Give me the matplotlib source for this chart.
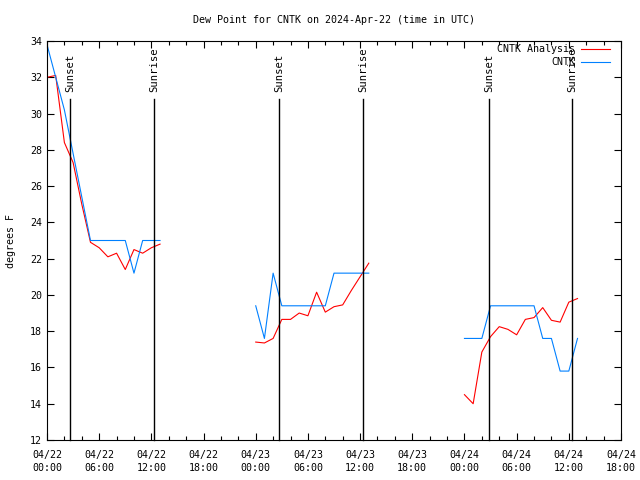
import numpy as np
import matplotlib
matplotlib.use("Agg")
import matplotlib.pyplot as plt
from matplotlib.ticker import MultipleLocator
from matplotlib.lines import Line2D

# hours since 2024-04-22 00:00 UTC
analysis_hours = [list(range(0, 14)), list(range(24, 38)), list(range(48, 62))]
analysis_vals = [
    [32.0, 32.1, 28.4, 27.3, 25.0, 22.9, 22.6, 22.1, 22.3, 21.4, 22.5, 22.3, 22.6, 22.8],
    [17.4, 17.35, 17.6, 18.65, 18.65, 19.0, 18.85, 20.15, 19.05, 19.35, 19.45, 20.25, 21.0, 21.75],
    [14.5, 14.0, 16.85, 17.7, 18.25, 18.1, 17.8, 18.65, 18.75, 19.3, 18.6, 18.5, 19.6, 19.8],
]
obs_hours = [list(range(0, 14)), list(range(24, 38)), list(range(48, 62))]
obs_vals = [
    [33.8, 32.0, 30.2, 27.8, 25.4, 23.0, 23.0, 23.0, 23.0, 23.0, 21.2, 23.0, 23.0, 23.0],
    [19.4, 17.6, 21.2, 19.4, 19.4, 19.4, 19.4, 19.4, 19.4, 21.2, 21.2, 21.2, 21.2, 21.2],
    [17.6, 17.6, 17.6, 19.4, 19.4, 19.4, 19.4, 19.4, 19.4, 17.6, 17.6, 15.8, 15.8, 17.6],
]
series_names = ["CNTK Analysis", "CNTK"]
series_colors = ["#ff0000", "#0080ff"]
sun_events = [2.68, 12.3, 26.68, 36.33, 50.82, 60.37]
sun_labels = ["Sunset", "Sunrise", "Sunset", "Sunrise", "Sunset", "Sunrise"]
xtick_hours = list(range(0, 67, 6))
xtick_labels = ["04/22\n00:00", "04/22\n06:00", "04/22\n12:00", "04/22\n18:00",
                "04/23\n00:00", "04/23\n06:00", "04/23\n12:00", "04/23\n18:00",
                "04/24\n00:00", "04/24\n06:00", "04/24\n12:00", "04/24\n18:00"]
yticks = list(range(12, 35, 2))


def join(hours, vals):
    xs, ys = [], []
    for h, v in zip(hours, vals):
        xs += list(h) + [np.nan]
        ys += list(v) + [np.nan]
    return np.array(xs, float), np.array(ys, float)


plt.rcParams['font.family'] = ['DejaVu Sans Mono']
FS = 7.2

fig = plt.figure(figsize=(6.4, 4.8), dpi=100)
ax = fig.add_axes([47/640, 40/480, 574/640, 399/480])

a_x, a_y = join(analysis_hours, analysis_vals)
o_x, o_y = join(obs_hours, obs_vals)
ax.plot(a_x, a_y, color=series_colors[0], lw=0.8)
ax.plot(o_x, o_y, color=series_colors[1], lw=0.8)

line_top = (440 - 99) / 399
for h, lab in zip(sun_events, sun_labels):
    ax.plot([h, h], [0, line_top], color='black', lw=1.0,
            transform=ax.get_xaxis_transform(), clip_on=False)
    ax.text(h, (440 - 92) / 399, lab, rotation=90, ha='center', va='bottom',
            transform=ax.get_xaxis_transform(), fontsize=7.6)

ax.set_xlim(0, 66)
ax.set_ylim(12, 34)
ax.set_xticks(xtick_hours)
ax.set_xticklabels(xtick_labels, linespacing=1.35)
ax.set_yticks(yticks)
ax.xaxis.set_minor_locator(MultipleLocator(2))
ax.tick_params(direction='in', top=True, right=True, length=5, width=0.8, labelsize=FS)
ax.tick_params(axis='x', pad=7)
ax.tick_params(which='minor', direction='in', top=True, length=3, width=0.8)
for s in ax.spines.values():
    s.set_linewidth(0.8)

ax.set_ylabel('degrees F', fontsize=FS, labelpad=10)
ax.set_title('Dew Point for CNTK on 2024-Apr-22 (time in UTC)', fontsize=FS, pad=13)

# legend (gnuplot style: text right-aligned, sample line to the right)
for i, (name, col) in enumerate(zip(series_names, series_colors)):
    ypix = 480 - (49 + 13 * i)
    fig.text(575 / 640, ypix / 480, name, ha='right', va='center', fontsize=FS)
    fig.add_artist(Line2D([581 / 640, 610 / 640], [ypix / 480, ypix / 480],
                          color=col, lw=0.8, transform=fig.transFigure))

fig.savefig('out.png', dpi=100)
